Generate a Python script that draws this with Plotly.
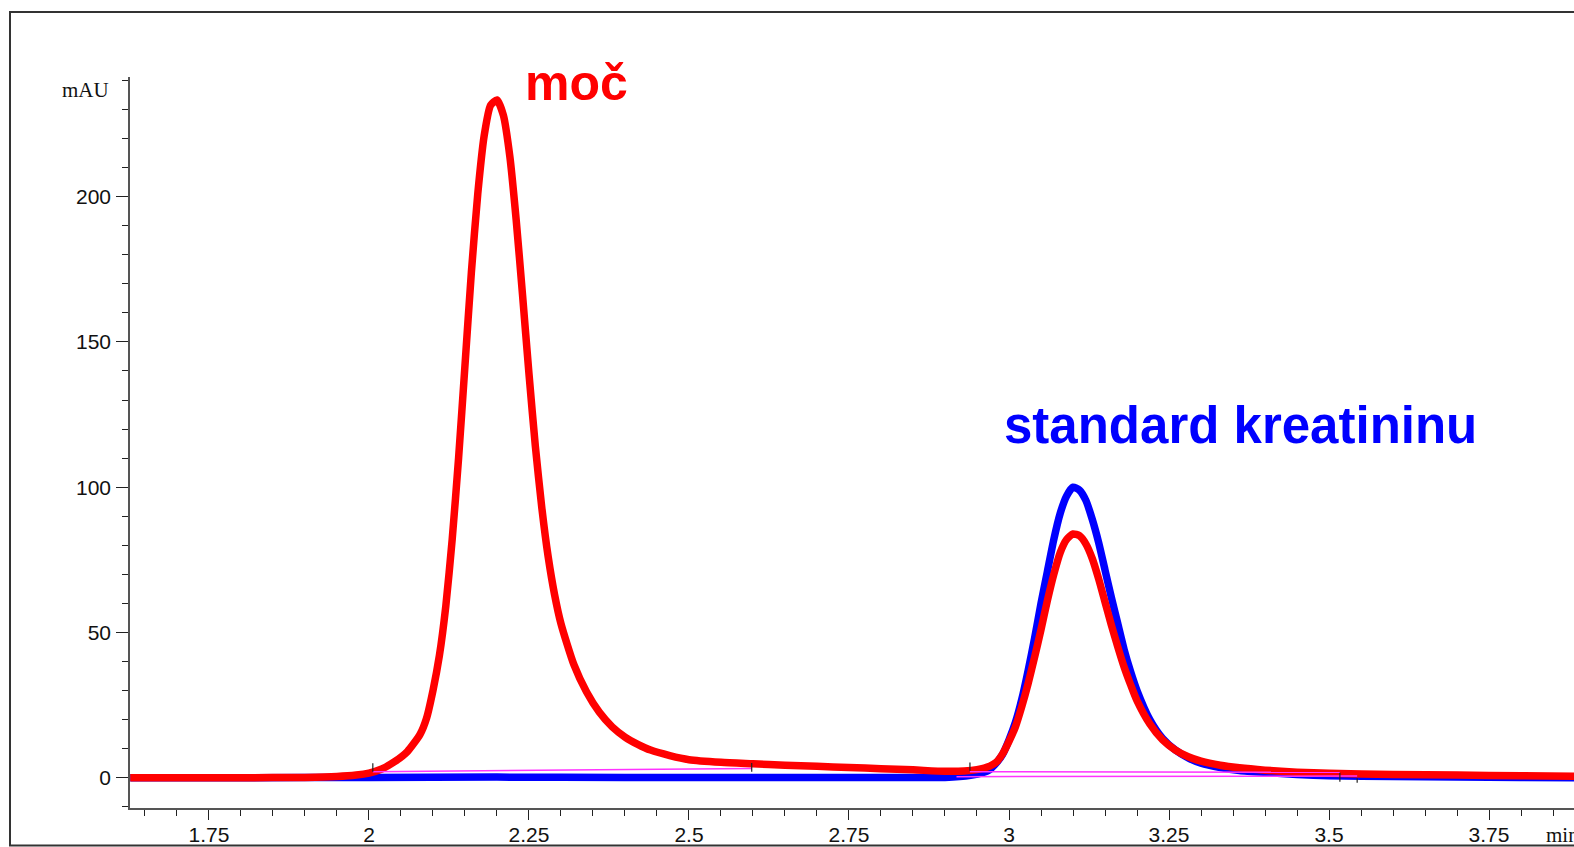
import plotly.graph_objects as go

# ---------------- data ----------------
# sample "moč" (urine) – red trace
t_red = [1.627, 1.70, 1.80, 1.90, 1.95, 1.98, 2.00, 2.02, 2.04, 2.06, 2.08, 2.09,
         2.10, 2.11, 2.12, 2.13, 2.14, 2.15, 2.16, 2.17, 2.18, 2.19, 2.20, 2.21,
         2.22, 2.23, 2.24, 2.25, 2.26, 2.27, 2.28, 2.29, 2.30, 2.32, 2.34, 2.36,
         2.38, 2.40, 2.42, 2.44, 2.47, 2.50, 2.55, 2.60, 2.65, 2.70, 2.75, 2.80,
         2.85, 2.90, 2.93, 2.95, 2.97, 2.98, 2.99, 3.00, 3.01, 3.02, 3.03, 3.04,
         3.05, 3.06, 3.07, 3.08, 3.09, 3.10, 3.11, 3.12, 3.13, 3.14, 3.15, 3.16,
         3.17, 3.18, 3.19, 3.20, 3.22, 3.24, 3.26, 3.28, 3.30, 3.33, 3.36, 3.40,
         3.45, 3.50, 3.60, 3.70, 3.80, 3.883]
mau_red = [0.0, 0.0, 0.0, 0.1, 0.4, 0.9, 1.6, 3.0, 5.5, 9.0, 15.0, 20.5,
           30.0, 42.0, 59.0, 82.0, 110.0, 142.0, 174.0, 201.0, 221.0, 231.5, 233.3, 228.0,
           214.0, 192.0, 166.0, 139.0, 114.0, 93.0, 76.0, 63.0, 53.0, 39.0, 29.5, 22.5,
           17.5, 14.0, 11.5, 9.5, 7.6, 6.2, 5.3, 4.8, 4.3, 3.9, 3.5, 3.1,
           2.7, 2.2, 2.3, 2.8, 4.0, 5.3, 8.2, 12.5, 17.5, 24.5, 32.5, 41.5,
           51.0, 61.0, 70.0, 77.5, 82.0, 83.9, 83.3, 80.5, 75.5, 68.5, 60.5, 52.5,
           45.0, 38.0, 32.0, 26.5, 18.5, 13.0, 9.5, 7.2, 5.7, 4.3, 3.4, 2.6,
           1.9, 1.5, 1.1, 0.9, 0.7, 0.5]

# creatinine standard – blue trace
t_blue = [1.627, 1.80, 2.00, 2.20, 2.40, 2.60, 2.80, 2.90, 2.94, 2.96, 2.97, 2.98,
          2.99, 3.00, 3.01, 3.02, 3.03, 3.04, 3.05, 3.06, 3.07, 3.08, 3.09, 3.10,
          3.11, 3.12, 3.13, 3.14, 3.15, 3.16, 3.17, 3.18, 3.19, 3.20, 3.22, 3.24,
          3.26, 3.28, 3.30, 3.33, 3.36, 3.40, 3.45, 3.50, 3.60, 3.70, 3.80, 3.883]
mau_blue = [0.0, 0.0, 0.1, 0.2, 0.1, 0.1, 0.1, 0.1, 0.8, 1.8, 2.8, 5.0,
            8.0, 13.0, 19.0, 27.0, 37.0, 48.0, 60.0, 71.0, 82.0, 91.0, 97.0, 100.0,
            99.0, 95.5, 89.0, 81.0, 71.5, 62.0, 53.0, 44.0, 36.5, 30.0, 20.0, 13.5,
            9.5, 6.8, 5.0, 3.5, 2.5, 1.8, 1.1, 0.7, 0.4, 0.2, 0.1, 0.0]

# integration baselines (magenta)
base_t0 = [2.006, 2.939, 2.918]
base_y0 = [2.07, 2.07, 0.35]
base_t1 = [2.598, 3.517, 3.544]
base_y1 = [3.2, 1.85, 0.55]

# peak start / end markers
mark_t = [2.006, 2.598, 2.939, 3.517, 3.544]
mark_lo = [2.07, 2.07, 2.4, -1.4, -1.7]
mark_hi = [4.96, 5.06, 5.2, 1.7, -0.2]

x_tickvals = [1.75, 2.0, 2.25, 2.5, 2.75, 3.0, 3.25, 3.5, 3.75]
x_ticktext = ["1.75", "2", "2.25", "2.5", "2.75", "3", "3.25", "3.5", "3.75"]
y_tickvals = [0, 50, 100, 150, 200]
y_ticktext = ["0", "50", "100", "150", "200"]

label_red = "moč"
label_blue = "standard kreatininu"

# ---------------- figure ----------------
W, H = 1574, 847
ML, MR, MT, MB = 130, 0, 77, 39
PW, PH = W - ML - MR, H - MT - MB

def px_x(px):
    return (px - ML) / PW

def px_y(py):
    return (H - MB - py) / PH

fig = go.Figure()

fig.add_trace(go.Scatter(x=t_blue, y=mau_blue, mode="lines",
                         line=dict(color="#0000FF", width=7.5, shape="spline", smoothing=0.6),
                         hoverinfo="skip", showlegend=False))
fig.add_trace(go.Scatter(x=t_red, y=mau_red, mode="lines",
                         line=dict(color="#FF0000", width=7.5, shape="spline", smoothing=0.6),
                         hoverinfo="skip", showlegend=False))

bx, by = [], []
for a, b, c, d in zip(base_t0, base_y0, base_t1, base_y1):
    bx += [a, c, None]
    by += [b, d, None]
fig.add_trace(go.Scatter(x=bx, y=by, mode="lines",
                         line=dict(color="#FF33FF", width=1.5),
                         hoverinfo="skip", showlegend=False))

mx, my = [], []
for t, lo, hi in zip(mark_t, mark_lo, mark_hi):
    mx += [t, t, None]
    my += [lo, hi, None]
fig.add_trace(go.Scatter(x=mx, y=my, mode="lines",
                         line=dict(color="#222222", width=1.2),
                         hoverinfo="skip", showlegend=False))

tickfont = dict(family="Liberation Sans, Arial, sans-serif", size=21, color="#111111")

fig.update_layout(
    width=W, height=H,
    margin=dict(l=ML, r=MR, t=MT, b=MB, pad=0, autoexpand=False),
    paper_bgcolor="white", plot_bgcolor="white",
    showlegend=False,
    xaxis=dict(range=[1.6266, 3.8828], showgrid=False, zeroline=False, automargin=False,
               showline=True, linecolor="#555555", linewidth=1.5,
               ticks="outside", ticklen=10, tickwidth=1.2, tickcolor="#222222",
               tickmode="array", tickvals=x_tickvals, ticktext=x_ticktext,
               tickfont=tickfont, ticklabelstandoff=-3,
               minor=dict(tickmode="linear", tick0=0, dtick=0.05, ticks="outside",
                          ticklen=6, tickwidth=1.2, tickcolor="#222222", showgrid=False)),
    yaxis=dict(range=[-10.43, 241.2], showgrid=False, zeroline=False, automargin=False,
               showline=True, linecolor="#555555", linewidth=1.5,
               ticks="outside", ticklen=12, tickwidth=1.2, tickcolor="#222222",
               tickmode="array", tickvals=y_tickvals, ticktext=y_ticktext,
               tickfont=tickfont, ticklabelstandoff=1,
               minor=dict(tickmode="linear", tick0=0, dtick=10, ticks="outside",
                          ticklen=6, tickwidth=1.2, tickcolor="#222222", showgrid=False)),
)

# outer frame (open on the right, as in the reference)
fig.add_shape(type="rect", xref="paper", yref="paper",
              x0=px_x(10), x1=px_x(1590), y0=px_y(845.5), y1=px_y(12),
              line=dict(color="#333333", width=2), fillcolor="rgba(0,0,0,0)", layer="below")

# axis unit labels
fig.add_annotation(text="mAU", xref="paper", yref="paper", x=px_x(111), y=px_y(90),
                   xanchor="right", yanchor="middle", showarrow=False,
                   font=dict(family="Liberation Serif, Times New Roman, serif", size=21, color="#111111"))
fig.add_annotation(text="min", xref="paper", yref="paper", x=px_x(1544), y=px_y(835),
                   xanchor="left", yanchor="middle", showarrow=False,
                   font=dict(family="Liberation Serif, Times New Roman, serif", size=21, color="#111111"))

# peak labels
fig.add_annotation(text="<b>" + label_red + "</b>", xref="x", yref="y", x=2.325, y=239.0,
                   xanchor="center", yanchor="middle", showarrow=False,
                   font=dict(family="Liberation Sans, Arial, sans-serif", size=50, color="#FF0000"))
fig.add_annotation(text="<b>" + label_blue + "</b>", xref="x", yref="y", x=3.361, y=121.4,
                   xanchor="center", yanchor="middle", showarrow=False,
                   font=dict(family="Liberation Sans, Arial, sans-serif", size=51, color="#0000FF"))

fig.write_html("out.html", config={"displayModeBar": False},
               post_script="document.body.style.margin='0px';document.body.style.overflow='hidden';")
